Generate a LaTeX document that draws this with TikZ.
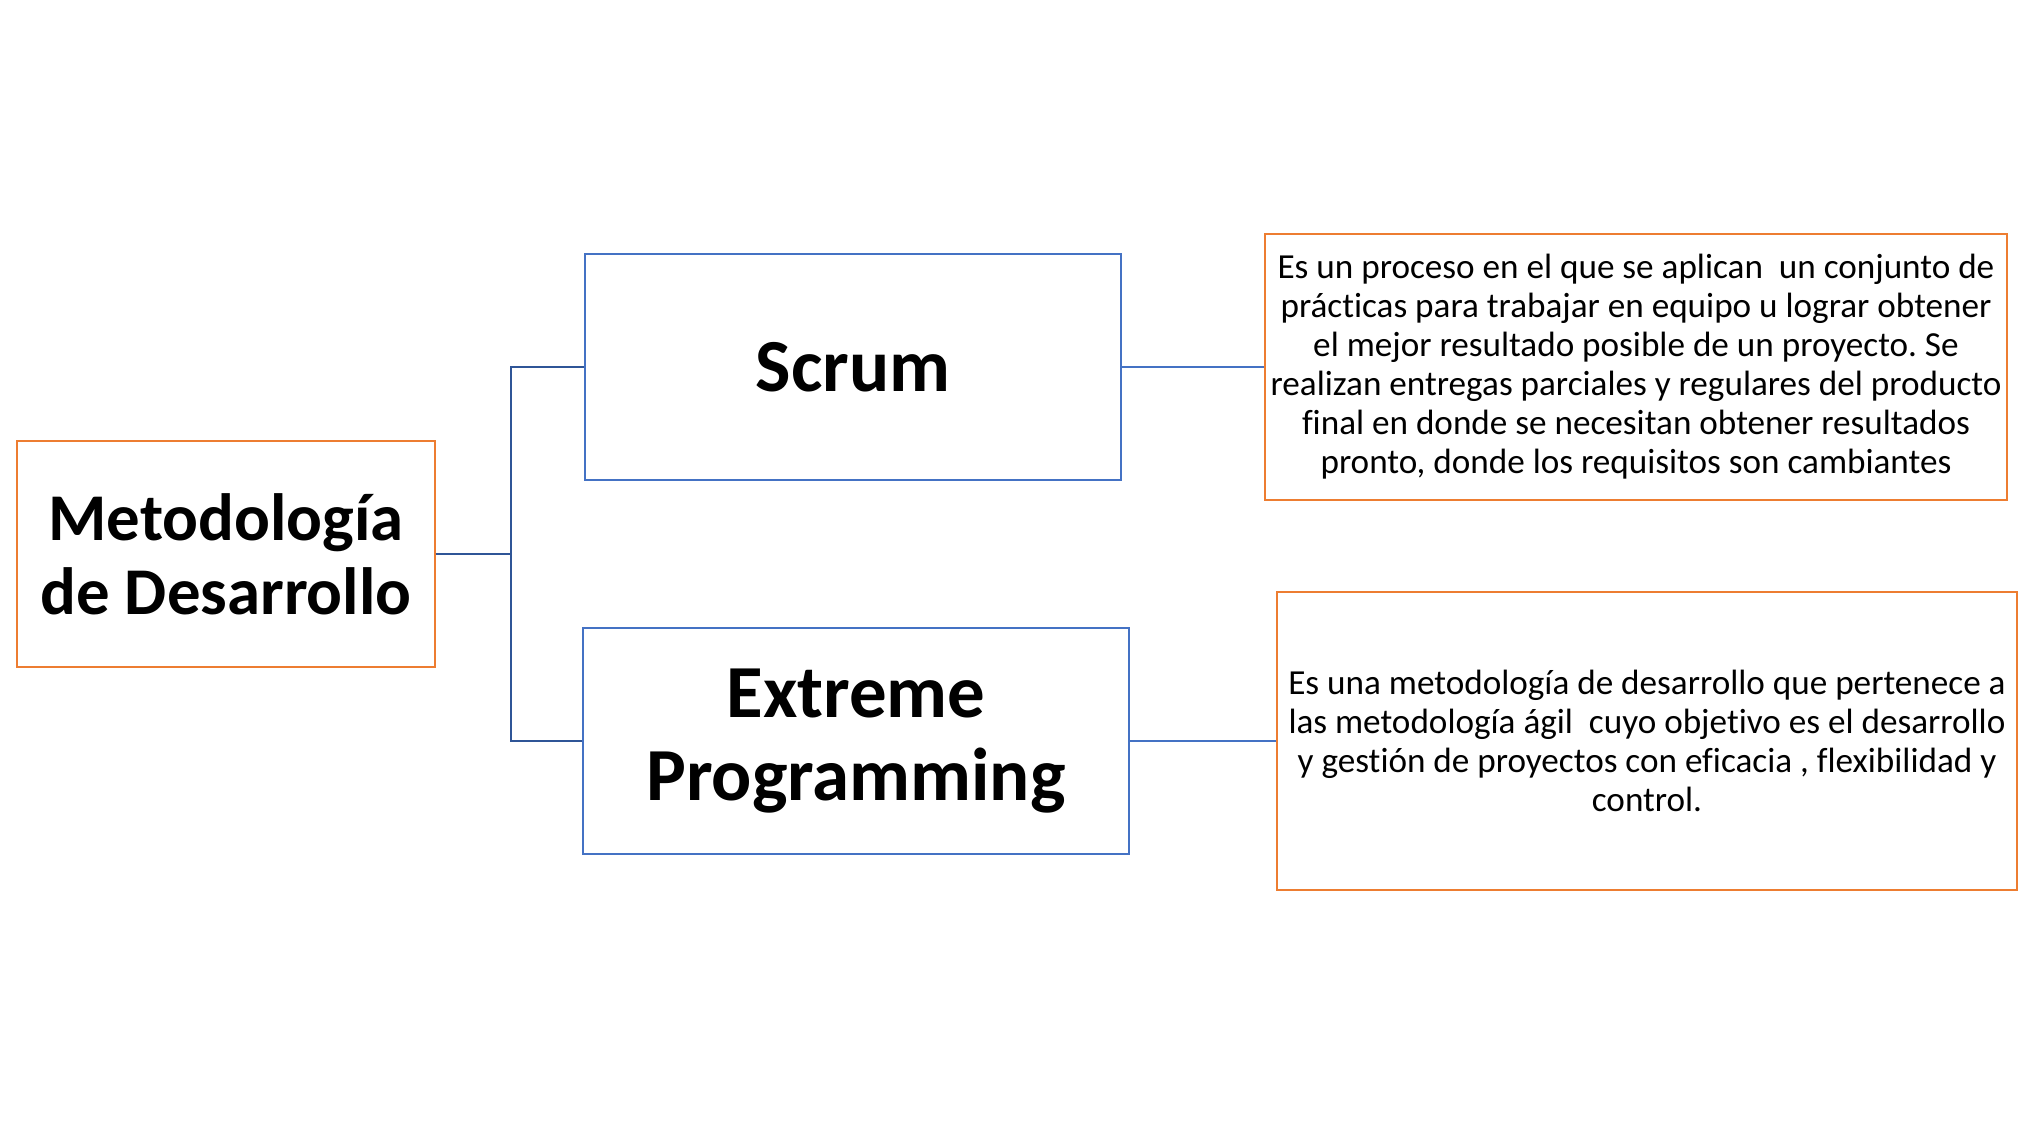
\documentclass[tikz,border=0pt]{standalone}
\usepackage{fontspec}
\setmainfont{Carlito}[Ligatures=NoCommon]
\frenchspacing
\definecolor{boxblue}{HTML}{4472C4}
\definecolor{boxorange}{HTML}{ED7D31}
\definecolor{linkblue}{HTML}{2F5597}
\tikzset{
  bluebox/.style={draw=boxblue,line width=0.6pt,inner sep=0pt,align=center,font=\bfseries},
  orangebox/.style={draw=boxorange,line width=0.6pt,inner sep=0pt,align=center},
  link/.style={draw=linkblue,line width=0.6pt},
  sidelink/.style={draw=boxblue,line width=0.6pt}
}

\begin{document}
\begin{tikzpicture}[x=0.01cm,y=-0.01cm]
        \useasboundingbox (0,0) rectangle (2039,1125);
        \node[orangebox,minimum width=4.17cm,minimum height=2.25cm,font=\fontsize{19}{21}\selectfont\bfseries] (meto) at (226,554) {Metodología\\de Desarrollo};
        \node[bluebox,minimum width=5.36cm,minimum height=2.26cm,font=\fontsize{21.3}{25}\selectfont\bfseries] (scrum) at (853,367) {Scrum};
        \node[bluebox,minimum width=5.46cm,minimum height=2.25cm,font=\fontsize{21.3}{23.5}\selectfont\bfseries] (xp) at (856,741) {Extreme\\Programming};
        \node[orangebox,minimum width=7.41cm,minimum height=2.65cm,font=\fontsize{10}{11.1}\selectfont] (scrumtxt) at (1636,367) {Es un proceso en el que se aplican\ \ un conjunto de\\prácticas para trabajar en equipo u lograr obtener\\el mejor resultado posible de un proyecto. Se\\realizan entregas parciales y regulares del producto\\final en donde se necesitan obtener resultados\\pronto, donde los requisitos son cambiantes};
        \node[orangebox,minimum width=7.40cm,minimum height=2.98cm,font=\fontsize{10}{11.1}\selectfont] (xptxt) at (1647,741) {Es una metodología de desarrollo que pertenece a\\las metodología ágil\ \ cuyo objetivo es el desarrollo\\y gestión de proyectos con eficacia , flexibilidad y\\control.};
        \coordinate (fork) at (511,554);
        \draw[link] (meto.east) -- (fork) |- (scrum.west);
        \draw[link] (fork) |- (xp.west);
        \draw[sidelink] (scrum.east) -- (scrumtxt.west);
        \draw[sidelink] (xp.east) -- (xptxt.west);
    \end{tikzpicture}
\end{document}
